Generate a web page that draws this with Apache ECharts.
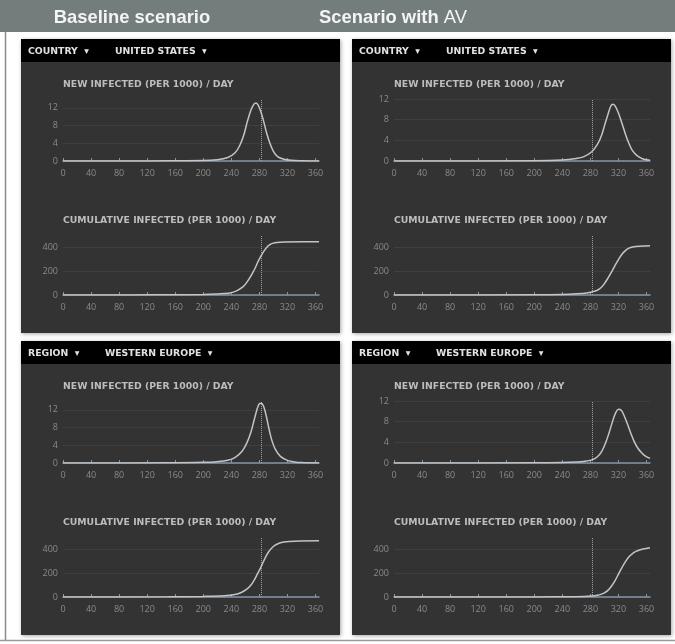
<!DOCTYPE html>
<html>
<head>
<meta charset="utf-8">
<script src="https://cdn.jsdelivr.net/npm/echarts@6/dist/echarts.min.js"></script>
<style>
html,body{margin:0;padding:0;background:#fff;}
#c{width:675px;height:644px;}
</style>
</head>
<body>
<div id="c"></div>
<script>
// ---------- data ----------
const scenarioTitles = ['Baseline scenario', 'Scenario with ', 'AV'];
const selectorLabels = [['COUNTRY', 'UNITED STATES'], ['REGION', 'WESTERN EUROPE']];
const chartTitles = ['NEW INFECTED (PER 1000) / DAY', 'CUMULATIVE INFECTED (PER 1000) / DAY'];
const markerDay = 282;

// United States, baseline - new infected
const usBaseNewDay = [0, 100, 150, 200, 220, 235, 245, 252, 258, 263, 268, 272, 275, 278, 282, 286, 290, 295, 300, 306, 315, 325, 340, 365];
const usBaseNewVal = [0, 0, 0.05, 0.1, 0.3, 0.8, 1.8, 3.5, 6, 9, 11.5, 12.8, 13.1, 12.7, 11.2, 9, 6.5, 4, 2.2, 1, 0.4, 0.15, 0.05, 0];
// United States, baseline - cumulative
const usBaseCumDay = [0, 100, 150, 200, 220, 236, 246, 256, 262, 266, 270, 274, 278, 283, 287, 291, 295, 299, 305, 315, 340, 365];
const usBaseCumVal = [0, 1, 2, 5, 9, 15, 30, 65, 105, 140, 180, 225, 278, 333, 370, 400, 420, 430, 438, 442, 443, 443];
// United States, AV - new infected
const usAvNewDay = [0, 200, 240, 260, 270, 282, 290, 296, 300, 305, 309, 312, 315, 320, 325, 330, 335, 340, 347, 355, 365];
const usAvNewVal = [0, 0.05, 0.2, 0.5, 0.8, 1.8, 3.2, 5, 6.8, 9, 10.6, 11, 10.7, 9.3, 7.3, 5.2, 3.4, 2, 1, 0.4, 0.15];
// United States, AV - cumulative
const usAvCumDay = [0, 200, 240, 260, 275, 282, 290, 295, 300, 305, 310, 315, 320, 325, 330, 335, 340, 350, 365];
const usAvCumVal = [0, 2, 5, 10, 17, 25, 40, 60, 95, 140, 190, 245, 295, 340, 370, 390, 400, 407, 410];
// Western Europe, baseline - new infected
const weBaseNewDay = [0, 150, 200, 220, 235, 245, 255, 262, 268, 273, 277, 280, 283, 286, 290, 294, 298, 303, 310, 320, 330, 340, 365];
const weBaseNewVal = [0, 0.05, 0.15, 0.3, 0.6, 1.2, 2.6, 4.5, 7, 10, 12.3, 13.4, 13.5, 12.8, 10.5, 7.5, 5, 3, 1.5, 0.6, 0.25, 0.1, 0];
// Western Europe, baseline - cumulative
const weBaseCumDay = [0, 150, 200, 230, 245, 255, 262, 268, 273, 277, 281, 285, 289, 293, 297, 302, 308, 315, 330, 365];
const weBaseCumVal = [0, 2, 5, 10, 20, 40, 65, 100, 145, 190, 235, 285, 335, 375, 405, 430, 448, 458, 465, 468];
// Western Europe, AV - new infected
const weAvNewDay = [0, 200, 240, 260, 270, 282, 290, 296, 302, 307, 312, 316, 320, 324, 328, 333, 338, 343, 348, 353, 358, 365];
const weAvNewVal = [0, 0.03, 0.1, 0.2, 0.3, 0.6, 1.2, 2.2, 4, 6, 8.2, 9.7, 10.4, 10.2, 9.2, 7.5, 5.6, 4, 2.8, 2, 1.4, 0.9];
// Western Europe, AV - cumulative
const weAvCumDay = [0, 200, 260, 282, 290, 295, 300, 305, 310, 315, 320, 325, 330, 335, 340, 345, 350, 355, 365];
const weAvCumVal = [0, 1, 3, 8, 14, 22, 35, 55, 90, 135, 190, 245, 295, 335, 362, 380, 392, 400, 410];

// ---------- layout ----------
const panels = [
  {x: 21,  y: 39,  sel: 0},
  {x: 352, y: 39,  sel: 0},
  {x: 21,  y: 341, sel: 1},
  {x: 352, y: 341, sel: 1}
];
const charts = [
  {p: 0, kind: 0, d: usBaseNewDay, v: usBaseNewVal, max: 14, step: 4},
  {p: 0, kind: 1, d: usBaseCumDay, v: usBaseCumVal, max: 500, step: 200},
  {p: 1, kind: 0, d: usAvNewDay, v: usAvNewVal, max: 12, step: 4},
  {p: 1, kind: 1, d: usAvCumDay, v: usAvCumVal, max: 500, step: 200},
  {p: 2, kind: 0, d: weBaseNewDay, v: weBaseNewVal, max: 14, step: 4},
  {p: 2, kind: 1, d: weBaseCumDay, v: weBaseCumVal, max: 500, step: 200},
  {p: 3, kind: 0, d: weAvNewDay, v: weAvNewVal, max: 12, step: 4},
  {p: 3, kind: 1, d: weAvCumDay, v: weAvCumVal, max: 500, step: 200}
];

const PW = 319, PH = 294;
const HFONT = 'bold 9.3px "DejaVu Sans", sans-serif';
const graphic = [];
graphic.push({type: 'rect', shape: {x: 0, y: 0, width: 675, height: 32}, style: {fill: '#737d7c'}, z: 0});
graphic.push({type: 'line', shape: {x1: 5.5, y1: 32, x2: 5.5, y2: 641}, style: {stroke: '#8a8a8a', lineWidth: 1.5}, z: 0});
graphic.push({type: 'line', shape: {x1: 0, y1: 640.5, x2: 675, y2: 640.5}, style: {stroke: '#9a9a9a', lineWidth: 1.5}, z: 0});
graphic.push({type: 'text', x: 132, y: 18, style: {text: scenarioTitles[0], fill: '#f4f4f4', font: 'bold 18.4px "Liberation Sans", Arial, sans-serif', align: 'center', verticalAlign: 'middle'}, z: 5});
graphic.push({type: 'text', x: 393, y: 18, style: {
  text: '{b|' + scenarioTitles[1] + '}{n|' + scenarioTitles[2] + '}',
  align: 'center', verticalAlign: 'middle',
  rich: {
    b: {fill: '#f4f4f4', font: 'bold 18.4px "Liberation Sans", Arial, sans-serif'},
    n: {fill: '#f4f4f4', font: '18.4px "Liberation Sans", Arial, sans-serif'}
  }}, z: 5});

panels.forEach(function (p) {
  graphic.push({type: 'rect', shape: {x: p.x, y: p.y, width: PW, height: PH},
    style: {fill: '#333333', shadowBlur: 4, shadowColor: 'rgba(0,0,0,0.35)', shadowOffsetX: 1, shadowOffsetY: 1}, z: 1});
  graphic.push({type: 'rect', shape: {x: p.x, y: p.y, width: PW, height: 23}, style: {fill: '#000000'}, z: 2});
  const s = selectorLabels[p.sel];
  graphic.push({type: 'text', x: p.x + 7, y: p.y + 12.5, style: {text: s[0] + '  \u25BE', fill: '#e2e2e2', font: HFONT, verticalAlign: 'middle'}, z: 3});
  graphic.push({type: 'text', x: p.x + (p.sel === 0 ? 94 : 84), y: p.y + 12.5, style: {text: s[1] + '  \u25BE', fill: '#e2e2e2', font: HFONT, verticalAlign: 'middle'}, z: 3});
  graphic.push({type: 'text', x: p.x + 42, y: p.y + 45.5, style: {text: chartTitles[0], fill: '#bdbdbd', font: HFONT, verticalAlign: 'middle'}, z: 3});
  graphic.push({type: 'text', x: p.x + 42, y: p.y + 181.5, style: {text: chartTitles[1], fill: '#bdbdbd', font: HFONT, verticalAlign: 'middle'}, z: 3});
});

const grid = [], xAxis = [], yAxis = [], series = [];
charts.forEach(function (c, i) {
  const p = panels[c.p];
  grid.push({left: p.x + 42, top: p.y + (c.kind === 0 ? 60 : 196), width: 256, height: c.kind === 0 ? 62 : 60});
  xAxis.push({
    gridIndex: i, type: 'value', min: 0, max: 365, interval: 40, z: 10,
    axisLine: {show: true, lineStyle: {color: '#8496a8', width: 1.5}},
    axisTick: {show: true, inside: true, length: 3, lineStyle: {color: '#8496a8'}},
    axisLabel: {color: '#8a8a8a', fontSize: 9, margin: 8, showMaxLabel: false, fontFamily: '"Open Sans", sans-serif'},
    splitLine: {show: false}
  });
  const fits = c.max % c.step === 0;
  yAxis.push({
    gridIndex: i, type: 'value', min: 0, max: c.max, interval: c.step, z: 10,
    axisLine: {show: false}, axisTick: {show: false},
    axisLabel: {color: '#8a8a8a', fontSize: 9, margin: 5, showMaxLabel: fits, fontFamily: '"Open Sans", sans-serif'},
    splitLine: {show: true, showMaxLine: fits, lineStyle: {color: '#3f3f3f', width: 1}}
  });
  series.push({
    type: 'line', xAxisIndex: i, yAxisIndex: i,
    data: c.d.map(function (d, k) { return [d, c.v[k]]; }),
    smooth: 0.35, showSymbol: false, symbol: 'none', z: 12,
    lineStyle: {color: '#c4c4c4', width: 1.5},
    markLine: {silent: true, symbol: 'none', label: {show: false}, z: 11,
      lineStyle: {color: '#a0a0a0', type: 'dotted', width: 1},
      data: [{xAxis: markerDay}]}
  });
});

const chart = echarts.init(document.getElementById('c'));
chart.setOption({
  animation: false,
  backgroundColor: '#ffffff',
  graphic: graphic,
  grid: grid, xAxis: xAxis, yAxis: yAxis, series: series
});
</script>
</body>
</html>
